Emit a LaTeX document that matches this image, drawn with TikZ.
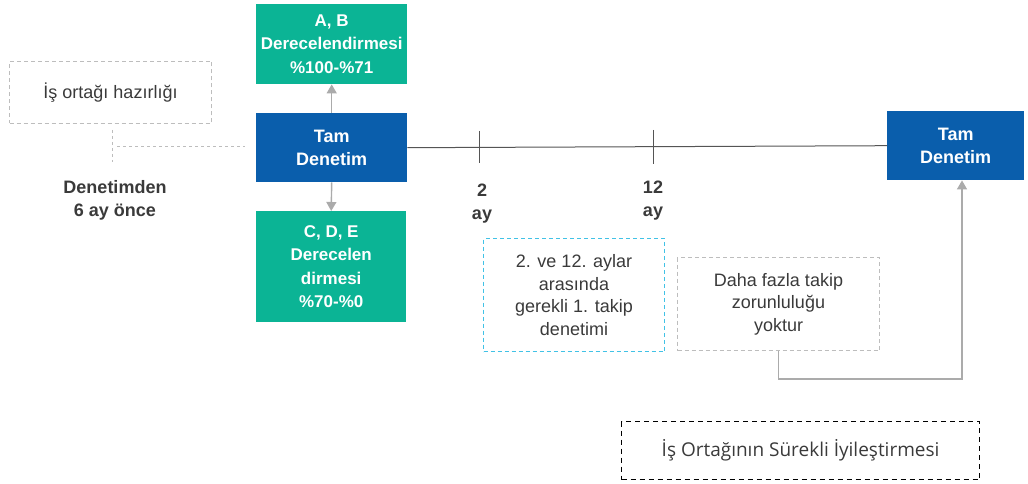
\documentclass[tikz,border=0pt]{standalone}
\usepackage{fontspec}
\setmainfont{Liberation Sans}
\newfontfamily\captionfont{Open Sans}
\usetikzlibrary{arrows.meta,calc}
\definecolor{auditgreen}{HTML}{0BB495}
\definecolor{auditblue}{HTML}{0A5EAC}
\definecolor{softgray}{HTML}{BDBDBD}
\definecolor{linkgray}{HTML}{ABABAB}
\definecolor{axisgray}{HTML}{555555}
\definecolor{textgray}{HTML}{3A3A3A}
\definecolor{skycyan}{HTML}{41C2E6}
\tikzset{
  boxfont/.style={font=\fontsize{17}{23.5}\selectfont\bfseries},
  bigbold/.style={font=\fontsize{18}{23}\selectfont\bfseries},
  plainfont/.style={font=\fontsize{18}{22.5}\selectfont},
  filledbox/.style={boxfont, text=white, align=center, inner sep=0pt, anchor=north west},
  gradebox/.style={filledbox, fill=auditgreen},
  auditbox/.style={filledbox, bigbold, fill=auditblue},
  notebox/.style={plainfont, text=textgray, align=center, inner sep=0pt, anchor=north west,
    draw=softgray, line width=1pt, dash pattern=on 4pt off 3pt},
  link/.style={draw=linkgray, line width=1.4pt, -{Triangle[width=10pt,length=9pt]}},
  guide/.style={draw=softgray, line width=1pt, dash pattern=on 3pt off 3pt},
  ticklabel/.style={bigbold, text=textgray, align=center, inner sep=0pt}
}
\begin{document}
\begin{tikzpicture}[x=1pt,y=-1pt]
\useasboundingbox (0,0) rectangle (1028,484);

% grade and audit boxes
\node[gradebox, minimum width=151pt, minimum height=80pt] (ab) at (256,4)
  {A, B\\Derecelendirmesi\\\%100-\%71};
\node[auditbox, minimum width=151pt, minimum height=69pt] (tam1) at (256,113)
  {Tam\\Denetim};
\node[gradebox, minimum width=150pt, minimum height=111pt] (cde) at (256,211)
  {C, D, E\\Derecelen\\dirmesi\\\%70-\%0};
\node[auditbox, minimum width=137pt, minimum height=69pt] (tam2) at (887,111)
  {Tam\\Denetim};

\draw[link] (tam1.north) -- (ab.south);
\draw[link] (tam1.south) -- (cde.north);

% preparation before the audit
\node[notebox, minimum width=202pt, minimum height=62pt] (hazir) at (9,61)
  {İş ortağı hazırlığı};
\coordinate (gv1) at (112,130);
\coordinate (gv2) at (112,162);
\coordinate (gh1) at (117,147);
\coordinate (gh2) at (245,147);
\draw[guide] (gv1) -- (gv2);
\draw[guide] (gh1) -- (gh2);
\node[ticklabel] (once) at (115,200)
  {Denetimden\\6 ay önce};

% timeline
\draw[draw=axisgray, line width=1pt] (tam1.east) -- (tam2.west);
\coordinate (t2a) at (479,131);
\coordinate (t2b) at (479,163);
\coordinate (t12a) at (653,130);
\coordinate (t12b) at (653,164);
\draw[draw=axisgray, line width=1pt] (t2a) -- (t2b);
\draw[draw=axisgray, line width=1pt] (t12a) -- (t12b);
\node[ticklabel] (lbl2) at (482,204) {2\\ay};
\node[ticklabel] (lbl12) at (653,201) {12\\ay};

% follow-up notes
\node[notebox, draw=skycyan, minimum width=181pt, minimum height=113pt] (takip) at (483,238)
  {2. ve 12. aylar\\arasında\\gerekli 1. takip\\denetimi};
\node[notebox, minimum width=202pt, minimum height=93pt] (daha) at (677,257)
  {Daha fazla takip\\zorunluluğu\\yoktur};
\coordinate (turn) at (962,379);
\draw[link] (daha.south) |- (turn) -- (turn |- tam2.south);

% continuous improvement
\node[draw=black, line width=1.2pt, dash pattern=on 5pt off 4pt, inner sep=0pt,
  anchor=north west, minimum width=358pt, minimum height=58pt,
  font=\captionfont\fontsize{19}{22}\selectfont, text=textgray] (surekli) at (621,421)
  {İş Ortağının Sürekli İyileştirmesi};
\end{tikzpicture}
\end{document}
